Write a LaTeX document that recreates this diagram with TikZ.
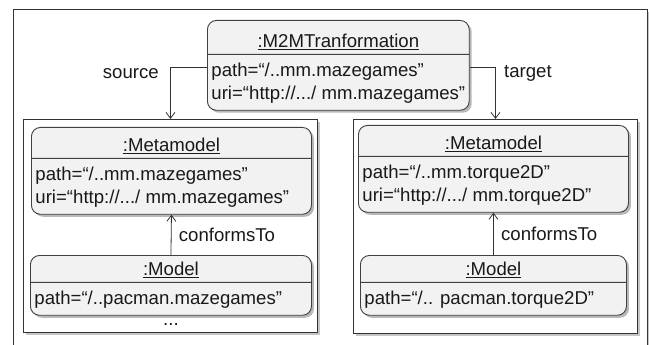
\documentclass[tikz,border=0pt]{standalone}
\usepackage{fontspec}
\setmainfont{Liberation Sans}
\usepackage{tikz}
\usetikzlibrary{shapes,arrows,arrows.meta,shadows}
\tikzstyle{object} = [rectangle split, rectangle split parts=2, rectangle split part align={center,left}, align=left, draw=black!75, line width=0.9pt, fill=gray!10, text=black!90, rounded corners=9pt, inner xsep=4pt, inner ysep=0pt, anchor=north west, drop shadow={shadow xshift=2.5pt, shadow yshift=-2.5pt, fill=black!55}]
\tikzstyle{frame} = [rectangle, draw=black!80, line width=0.9pt, fill=white, inner sep=0pt, anchor=north west, drop shadow={shadow xshift=2.5pt, shadow yshift=-2.5pt, fill=black!45}]
\tikzstyle{line} = [draw, black!80, line width=0.8pt, -{Straight Barb[length=6pt,width=9pt]}]
\newcommand{\objname}[2]{\rule[-6pt]{0pt}{#1pt}\underline{#2}}
\newcommand{\firstattr}{\rule{0pt}{22pt}}
\newcommand{\lastattr}{\rule[-10pt]{0pt}{10pt}}

\begin{document}
\begin{tikzpicture}[x=1pt, y=-1pt, font=\fontsize{18.6}{23}\selectfont]
\useasboundingbox (0,0) rectangle (649,345);
\node [frame, minimum width=634pt, minimum height=360pt] (canvas) at (13,9) {};

\node [object, minimum width=260pt] (m2m) at (207,20) {\objname{33}{:M2MTranformation}
  \nodepart{two}\firstattr path=“/..mm.mazegames”\\uri=“http://.../ mm.mazegames”\lastattr};

\node [frame, minimum width=294pt, minimum height=213pt] (mmleft) at (23,119) {};
\node [frame, minimum width=284pt, minimum height=214pt] (mmright) at (353,119) {};
\path [line] ([yshift=-2pt]m2m.west) -| (mmleft.north) node [pos=0.5, left=8pt, yshift=-6pt, text=black!90] {source};
\path [line] ([yshift=-2pt]m2m.east) -| (mmright.north) node [pos=0.5, right=5pt, yshift=-6pt, text=black!90] {target};

% left side
\node [object, minimum width=280pt] (metaleft) at (31,127) {\objname{30}{:Metamodel}
  \nodepart{two}\firstattr path=“/..mm.mazegames”\\uri=“http://.../ mm.mazegames”\lastattr};
\node [object, minimum width=281pt] (modleft) at (30,255) {\objname{26}{:Model}
  \nodepart{two}\firstattr path=“/..pacman.mazegames”\lastattr};
\path [line] (modleft.north) -- (metaleft.south) node [midway, right=4pt, text=black!90] {conformsTo};
\node [anchor=base, text=black!90] (moredots) at (171,325) {...};

% right side
\node [object, minimum width=270pt] (metaright) at (358,125) {\objname{30}{:Metamodel}
  \nodepart{two}\firstattr path=“/..mm.torque2D”\\uri=“http://.../ mm.torque2D”\lastattr};
\node [object, minimum width=266pt] (modright) at (360,255) {\objname{26}{:Model}
  \nodepart{two}\firstattr path=“/.. pacman.torque2D”\lastattr};
\path [line] (modright.north) -- (metaright.south) node [midway, right=4pt, text=black!90] {conformsTo};
\end{tikzpicture}
\end{document}
